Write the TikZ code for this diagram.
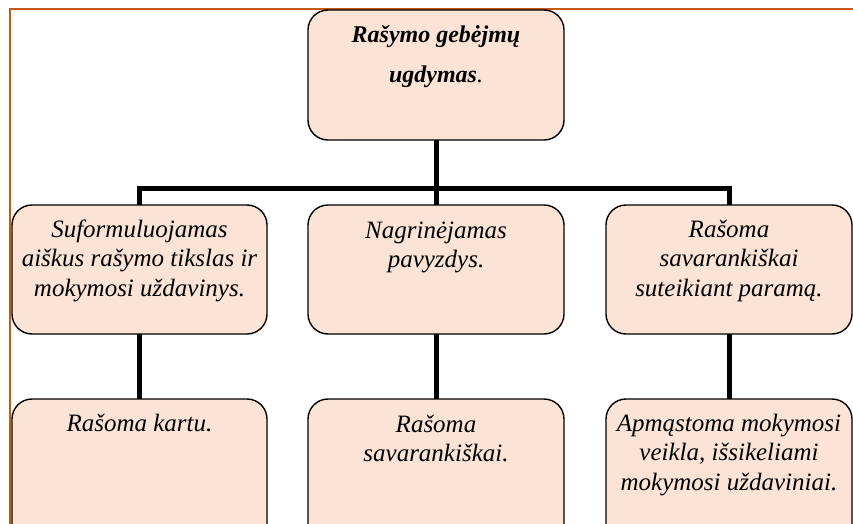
\documentclass[tikz,border=0pt]{standalone}
\usepackage{fontspec}
\setmainfont{Liberation Serif}
\definecolor{peach}{HTML}{FBE4D5}
\definecolor{framec}{HTML}{C55A11}
\newcommand{\mybox}[4]{\begin{minipage}[t][#2][t]{#1}\centering\rule{0pt}{#3}#4\end{minipage}}
\begin{document}
\begin{tikzpicture}[x=1pt,y=-1pt,
  card/.style={draw=black, line width=1.4pt, fill=peach, rounded corners=20pt, inner sep=0pt, outer sep=0pt, anchor=north west},
  link/.style={line width=5pt, draw=black},
  body/.style={font=\fontsize{25}{29.5}\selectfont\itshape}]
\useasboundingbox (0,0) rectangle (853,524);
\fill[white] (0,0) rectangle (853,524);
\clip (0,0) rectangle (853,524);
\draw[framec, line width=2pt] (853,9) -- (10,9) -- (10,524);

\node[card, font=\fontsize{24}{40}\selectfont\itshape] (top) at (308,10)
  {\mybox{256pt}{130pt}{33pt}{\textbf{Rašymo gebėjmų}\\ \textbf{ugdymas}.}};

\node[card, body] (c1) at (12,205)
  {\mybox{255pt}{129pt}{32pt}{Suformuluojamas\\ aiškus rašymo tikslas ir\\ mokymosi uždavinys.}};
\node[card, body] (c2) at (308,205)
  {\mybox{256pt}{129pt}{33pt}{Nagrinėjamas\\ pavyzdys.}};
\node[card, body] (c3) at (606,205)
  {\mybox{246pt}{129pt}{32pt}{Rašoma\\ savarankiškai\\ suteikiant paramą.}};

\node[card, body] (d1) at (12,399)
  {\mybox{255pt}{145pt}{32pt}{Rašoma kartu.}};
\node[card, body] (d2) at (308,399)
  {\mybox{256pt}{145pt}{33pt}{Rašoma\\ savarankiškai.}};
\node[card, body] (d3) at (606,399)
  {\mybox{246pt}{145pt}{32pt}{\makebox[0pt]{Apmąstoma mokymosi}\\ veikla, išsikeliami\\ mokymosi uždaviniai.}};

\draw[link] (top.south) -- ++(0,48) coordinate (bar);
\draw[link] (bar) -| (c1.north);
\draw[link] (bar) -- (c2.north);
\draw[link] (bar) -| (c3.north);
\draw[link] (c1.south) -- (d1.north);
\draw[link] (c2.south) -- (d2.north);
\draw[link] (c3.south) -- (d3.north);
\end{tikzpicture}
\end{document}
